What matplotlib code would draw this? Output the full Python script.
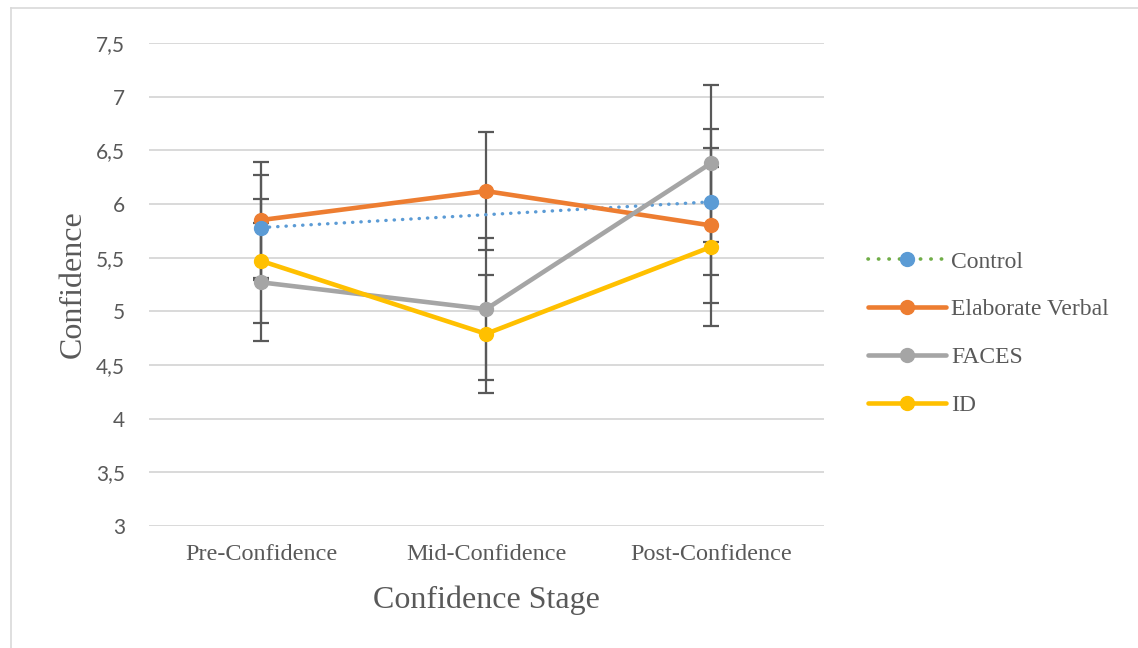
import matplotlib
matplotlib.use("Agg")
import matplotlib.pyplot as plt
import numpy as np
from matplotlib.lines import Line2D
from matplotlib.ticker import FuncFormatter, MultipleLocator

stages = ["Pre-Confidence", "Mid-Confidence", "Post-Confidence"]

# group means and error-bar half widths per stage (nan = not measured)
control = [5.78, np.nan, 6.02]
control_err = [0.49, np.nan, 0.68]
elaborate = [5.85, 6.12, 5.80]
elaborate_err = [0.54, 0.55, 0.72]
faces = [5.27, 5.02, 6.38]
faces_err = [0.55, 0.66, 0.73]
ident = [5.47, 4.79, 5.60]
ident_err = [0.58, 0.55, 0.74]

SERIES = [
    ("Control", control, control_err, "#5B9BD5"),
    ("Elaborate Verbal", elaborate, elaborate_err, "#ED7D31"),
    ("FACES", faces, faces_err, "#A5A5A5"),
    ("ID", ident, ident_err, "#FFC000"),
]
TEXT = "#595959"
SERIF = "Liberation Serif"
SANS = "Lato"

fig = plt.figure(figsize=(11.38, 6.48), dpi=100)
ax = fig.add_axes([0.1305, 0.1883, 0.5932, 0.7454])

x = np.arange(len(stages))

# error bars sit underneath the series lines
for name, vals, errs, colour in SERIES:
    v = np.asarray(vals, float)
    e = np.asarray(errs, float)
    ok = ~np.isnan(v)
    ax.errorbar(x[ok], v[ok], yerr=e[ok], fmt="none", ecolor="#595959",
                elinewidth=1.6, capsize=5.8, capthick=1.6, zorder=2)

for name, vals, errs, colour in SERIES:
    v = np.asarray(vals, float)
    ok = ~np.isnan(v)
    if name == "Control":
        ax.plot(x[ok], v[ok], color=colour, lw=2.4, ls=(0, (0.1, 2.4)),
                dash_capstyle="round", zorder=3)
        ax.plot(x[ok], v[ok], ls="none", marker="o", ms=10, color=colour, zorder=4)
    else:
        ax.plot(x[ok], v[ok], color=colour, lw=3.3, marker="o", ms=10,
                solid_capstyle="round", zorder=3)

ax.set_xlim(-0.5, 2.5)
ax.set_ylim(3, 7.5)
ax.yaxis.set_major_locator(MultipleLocator(0.5))
ax.yaxis.set_major_formatter(FuncFormatter(lambda v, _: f"{v:g}".replace(".", ",")))
ax.set_xticks(x)
ax.set_xticklabels(stages, fontsize=17.5, family=SERIF, color=TEXT)
for lab in ax.get_yticklabels():
    lab.set_fontsize(15)
    lab.set_family(SANS)
    lab.set_color(TEXT)
ax.tick_params(axis="both", length=0)
ax.tick_params(axis="y", pad=17)
ax.tick_params(axis="x", pad=13)
ax.grid(axis="y", color="#d9d9d9", lw=1.4)
ax.set_axisbelow(True)
for s in ax.spines.values():
    s.set_visible(False)

ax.set_xlabel("Confidence Stage", fontsize=23, family=SERIF, color=TEXT, labelpad=15)
ax.set_ylabel("Confidence", fontsize=23, family=SERIF, color=TEXT, labelpad=6)

handles = [
    Line2D([], [], color="#70AD47", lw=2.6, ls=(0, (0.1, 2.8)), dash_capstyle="round",
           marker="o", ms=10, mfc="#5B9BD5", mec="#5B9BD5"),
    Line2D([], [], color="#ED7D31", lw=3.3, marker="o", ms=10, solid_capstyle="round"),
    Line2D([], [], color="#A5A5A5", lw=3.3, marker="o", ms=10, solid_capstyle="round"),
    Line2D([], [], color="#FFC000", lw=3.3, marker="o", ms=10, solid_capstyle="round"),
]
fig.legend(handles, [s[0] for s in SERIES], loc="center left",
           bbox_to_anchor=(0.763, 0.485), frameon=False, borderpad=0,
           borderaxespad=0, handlelength=3.3, handletextpad=0.2,
           labelspacing=1.12, prop={"family": SERIF, "size": 17},
           labelcolor=TEXT)

# light frame round the chart area (top and left edges show)
fig.add_artist(Line2D([11 / 1138, 1.0], [1 - 8 / 648] * 2, color="#d9d9d9", lw=1.2))
fig.add_artist(Line2D([11 / 1138] * 2, [0.0, 1 - 8 / 648], color="#d9d9d9", lw=1.2))

fig.savefig("out.png", dpi=100, facecolor="white")
